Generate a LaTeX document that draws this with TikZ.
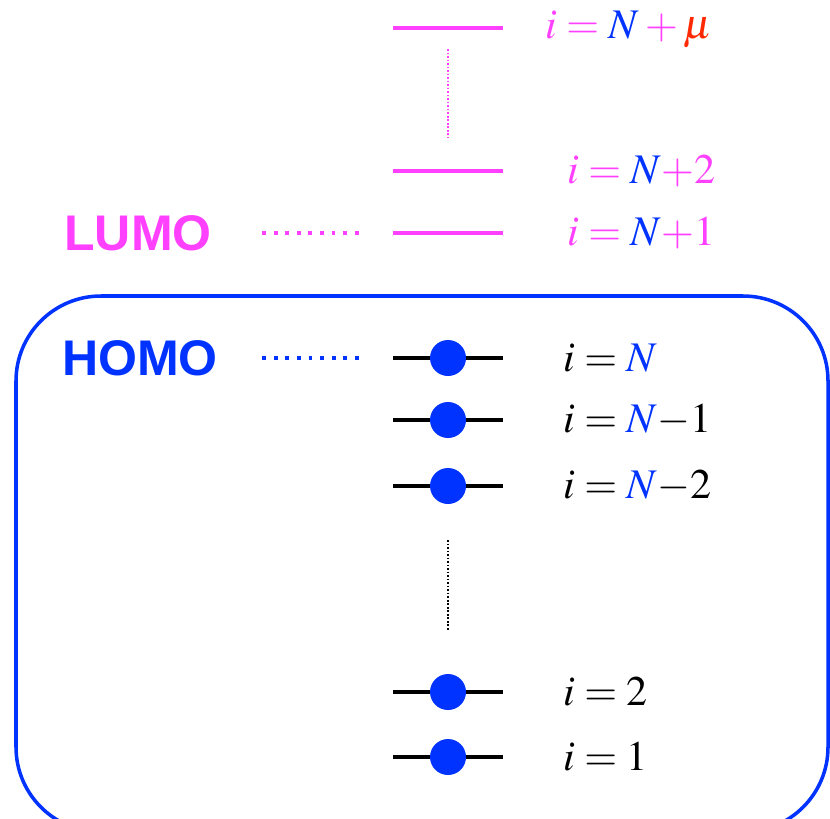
\documentclass[tikz,border=0pt]{standalone}
\usepackage{mathptmx}
\usepackage[no-math]{fontspec}
\setmainfont{Liberation Serif}
\setsansfont{Liberation Sans}
\usetikzlibrary{positioning}

\definecolor{lumopink}{RGB}{255,64,255}
\definecolor{homoblue}{RGB}{0,51,255}
\definecolor{mured}{RGB}{255,40,0}

\begin{document}
\begin{tikzpicture}[
        x=0.02cm, y=-0.02cm,
        level/.style={line width=2.3pt},
        electron/.style={circle, fill=homoblue, minimum size=0.72cm, inner sep=0pt},
        lbl/.style={anchor=west, inner sep=0pt, font=\fontsize{24}{28}\selectfont},
        orb/.style={inner sep=0pt, font=\fontsize{28.5}{32}\selectfont\sffamily\bfseries},
        guide/.style={line width=2.3pt, dash pattern=on 2.2pt off 4.4pt}
    ]
        \useasboundingbox (0,0) rectangle (830,818);

        % Occupied box
        \draw[homoblue, line width=2pt, rounded corners=1.7cm] (16,296) rectangle (828,832);

        % Empty levels
        \foreach \name/\y in {lmu/28, l2/171, l1/233} {
            \coordinate (\name-w) at (393,\y);
            \coordinate (\name-e) at (503,\y);
            \draw[level, lumopink] (\name-w) -- (\name-e);
        }
        \node[lbl, text=lumopink] (tmu) at (545,30) {$i = {\color{homoblue}N} + {\color{mured}\mu}$};
        \node[lbl, text=lumopink] (t2) at (567,171) {$i = {\color{homoblue}N}{+}2$};
        \node[lbl, text=lumopink] (t1) at (567,233) {$i = {\color{homoblue}N}{+}1$};

        % Occupied levels
        \foreach \name/\y in {h0/358, h1/420, h2/486, hb/692, ha/757} {
            \coordinate (\name-w) at (393,\y);
            \coordinate (\name-e) at (503,\y);
            \draw[level, black] (\name-w) -- (\name-e);
            \node[electron] (\name-el) at (448,\y) {};
        }
        \node[lbl] (th0) at (563,358) {$i = {\color{homoblue}N}$};
        \node[lbl] (th1) at (563,420) {$i = {\color{homoblue}N}{-}1$};
        \node[lbl] (th2) at (563,486) {$i = {\color{homoblue}N}{-}2$};
        \node[lbl] (thb) at (563,692) {$i = 2$};
        \node[lbl] (tha) at (563,757) {$i = 1$};

        % Gaps
        \coordinate (gap-top) at (448,49);
        \coordinate (gap-bot) at (448,138);
        \draw[lumopink, line width=1.5pt, dash pattern=on 1pt off 1pt] (gap-top) -- (gap-bot);
        \coordinate (hgap-top) at (448,540);
        \coordinate (hgap-bot) at (448,630);
        \draw[black, line width=0.8pt, dash pattern=on 1pt off 1pt] (hgap-top) -- (hgap-bot);

        % Frontier labels
        \node[orb, text=lumopink] (lumo) at (138,233) {LUMO};
        \node[orb, text=homoblue] (homo) at (140,358) {HOMO};
        \draw[guide, lumopink, shorten <=1.0cm, shorten >=0.66cm] (lumo.east |- l1-w) -- (l1-w);
        \draw[guide, homoblue, shorten <=0.88cm, shorten >=0.66cm] (homo.east |- h0-w) -- (h0-w);

    \end{tikzpicture}
\end{document}
